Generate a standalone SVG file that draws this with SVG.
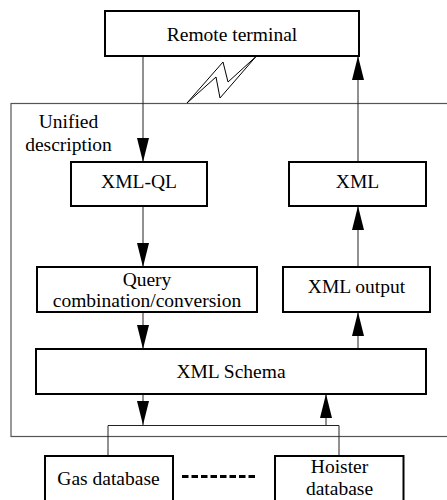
<svg xmlns="http://www.w3.org/2000/svg" width="447" height="500" viewBox="0 0 447 500">
<defs>
<marker id="ah" viewBox="0 0 24 12" refX="24" refY="6" markerWidth="24" markerHeight="12" markerUnits="userSpaceOnUse" orient="auto">
<path d="M0,0 L24,6 L0,12 Z" fill="#000"/>
</marker>
<style>
.box{fill:#fff;stroke:#000;stroke-width:2}
text{font-family:'Liberation Serif','Times New Roman',Times,serif;font-size:19.5px;fill:#000;text-anchor:middle}
.c{fill:none;stroke:#222;stroke-width:1}
.ca{fill:none;stroke:#222;stroke-width:1;marker-end:url(#ah)}
</style>
</defs>
<rect id="container" x="11" y="103.5" width="450" height="333" fill="none" stroke="#555" stroke-width="1.2"/>
<g id="label" font-family="Liberation Serif, serif">
<text x="68.5" y="128">Unified</text>
<text x="68.5" y="151">description</text>
</g>
<g id="connectors">
<line class="ca" x1="143" y1="56" x2="143" y2="162"/>
<line class="ca" x1="358" y1="162" x2="358" y2="56"/>
<line class="ca" x1="143" y1="206" x2="143" y2="267"/>
<line class="ca" x1="358" y1="267" x2="358" y2="206"/>
<line class="ca" x1="143" y1="312" x2="143" y2="349"/>
<line class="ca" x1="358" y1="349" x2="358" y2="312"/>
<line class="ca" x1="143" y1="394" x2="143" y2="425"/>
<line class="ca" x1="326" y1="425.5" x2="326" y2="394"/>
<polyline class="c" points="108,456 108,425.5 339,425.5 339,456"/>
<line x1="182" y1="476.5" x2="258" y2="476.5" stroke="#000" stroke-width="3" stroke-dasharray="6.5 3"/>
<polygon points="187,103 223,62 228,82 256,56.5 220,98 216,77" fill="#fff" stroke="#000" stroke-width="1"/>
</g>
<g id="remote"><rect class="box" x="105" y="11" width="254" height="45"/><text x="232" y="41">Remote terminal</text></g>
<g id="xmlql"><rect class="box" x="71" y="162" width="136" height="44"/><text x="139" y="188">XML-QL</text></g>
<g id="xml"><rect class="box" x="289" y="162" width="137" height="44"/><text x="357.5" y="188">XML</text></g>
<g id="query"><rect class="box" x="37" y="267" width="220" height="45"/><text x="147" y="286">Query</text><text x="147" y="307">combination/conversion</text></g>
<g id="xmloutput"><rect class="box" x="283" y="267" width="147" height="45"/><text x="356.5" y="293">XML output</text></g>
<g id="schema"><rect class="box" x="36" y="349" width="390" height="45"/><text x="231" y="378">XML Schema</text></g>
<g id="gas"><rect class="box" x="45" y="456" width="128" height="50"/><text x="108.5" y="485">Gas database</text></g>
<g id="hoister"><rect class="box" x="275" y="456" width="128.5" height="50"/><text x="339.5" y="473">Hoister</text><text x="339.5" y="495">database</text></g>
</svg>
